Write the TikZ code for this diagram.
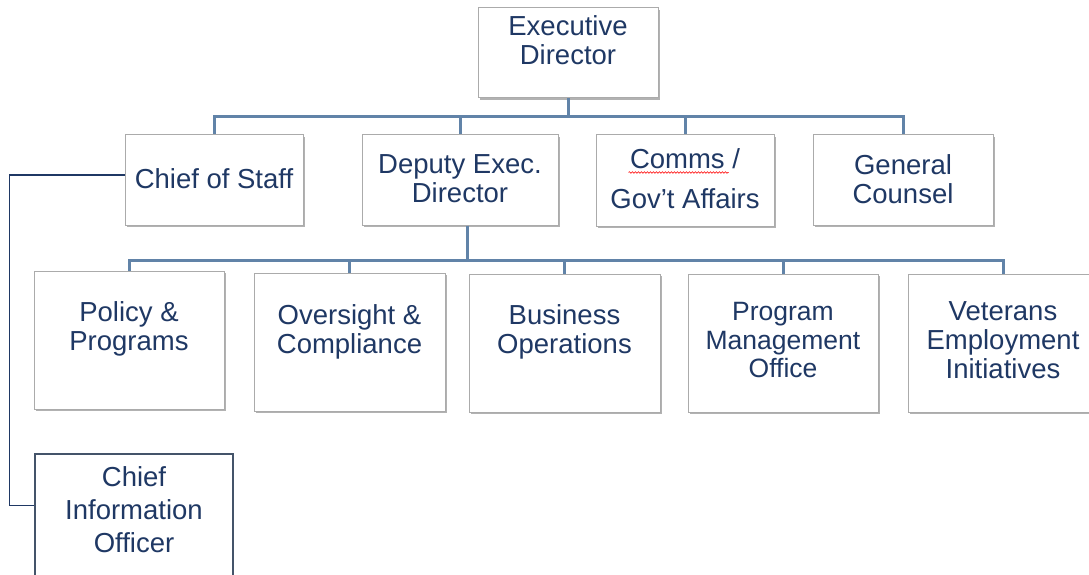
\documentclass[tikz,border=0pt]{standalone}
\usepackage{fontspec}
\setmainfont{Liberation Sans}
\usetikzlibrary{shadows, decorations.pathmorphing}

\definecolor{navy}{HTML}{1F3864}
\definecolor{steel}{HTML}{6183A8}
\definecolor{boxgray}{HTML}{ABABAB}
\definecolor{slate}{HTML}{44546A}

\begin{document}
\begin{tikzpicture}[x=1pt, y=-1pt, line join=miter,
  tree/.style={draw=steel, line width=3pt},
  link/.style={draw=navy, line width=1.2pt},
  elbow/.style={to path={-| (\tikztotarget)}},
  unit node/.style={rectangle, draw=boxgray, line width=1pt, fill=white,
    drop shadow={shadow xshift=1.5pt, shadow yshift=-2pt, fill=black, opacity=0.3}},
  cio node/.style={rectangle, draw=slate, line width=1.3pt, fill=white},
  name text/.style={anchor=north, inner sep=0pt, align=center, text=navy,
    font=\fontsize{27.5}{29}\selectfont}]

  \path[use as bounding box, fill=white] (0,0) rectangle (1089,575);

  % top level
  \node[unit node] (exec) at (568,53) [minimum width=180pt, minimum height=90pt,
    label={[name text, yshift=-8pt]north:{Executive\\Director}}] {};

  % second row
  \node[unit node] (staff) at (214,180) [minimum width=178pt, minimum height=90pt,
    label={[name text, yshift=-34pt]north:{Chief of Staff}}] {};
  \node[unit node] (deputy) at (460,180) [minimum width=196pt, minimum height=90pt,
    label={[name text, yshift=-20pt]north:{Deputy Exec.\\Director}}] {};
  \node[unit node] (comms) at (685,180.5) [minimum width=178pt, minimum height=91pt,
    label={[name text, yshift=-14pt]north:{Comms /\\[11pt]Gov’t Affairs}}] {};
  \node[unit node] (counsel) at (903,180) [minimum width=180pt, minimum height=90pt,
    label={[name text, yshift=-20pt]north:{General\\Counsel}}] {};

  % third row
  \node[unit node] (policy) at (129,340) [minimum width=190pt, minimum height=138pt,
    label={[name text, yshift=-31pt]north:{Policy \&\\Programs}}] {};
  \node[unit node] (oversight) at (349.5,342) [minimum width=191pt, minimum height=138pt,
    label={[name text, yshift=-32pt]north:{Oversight \&\\Compliance}}] {};
  \node[unit node] (business) at (564.5,343) [minimum width=191pt, minimum height=138pt,
    label={[name text, yshift=-31pt]north:{Business\\Operations}}] {};
  \node[unit node] (pmo) at (783,343) [minimum width=190pt, minimum height=138pt,
    label={[name text, yshift=-29pt, font=\fontsize{26.5}{28.5}\selectfont]north:{Program\\Management\\Office}}] {};
  \node[unit node] (veterans) at (1003,343) [minimum width=190pt, minimum height=138pt,
    label={[name text, yshift=-28pt]north:{Veterans\\Employment\\Initiatives}}] {};

  \node[cio node] (cio) at (134,519) [minimum width=198pt, minimum height=130pt,
    label={[name text, yshift=-13pt, font=\fontsize{27.5}{33}\selectfont]north:{Chief\\Information\\Officer}}] {};

  \coordinate (bar1) at (568,117);
  \coordinate (bar2) at (467,260);

  \path[tree]
    (exec.south) edge (bar1)
    (bar1) edge[elbow] (staff.north)
    (bar1) edge[elbow] (deputy.north)
    (bar1) edge[elbow] (comms.north)
    (bar1) edge[elbow] (counsel.north);

  \path[tree]
    ([xshift=7pt]deputy.south) edge (bar2)
    (bar2) edge[elbow] (policy.north)
    (bar2) edge[elbow] (oversight.north)
    (bar2) edge[elbow] (business.north)
    (bar2) edge[elbow] (pmo.north)
    (bar2) edge[elbow] (veterans.north);

  \draw[link] ([yshift=5pt]staff.west) -- ++(-115,0) |- ([yshift=-52pt]cio.north west);

  % spell-check mark under Comms
  \draw[red, line width=0.6pt, decorate, decoration={snake, amplitude=0.8pt, segment length=3pt}]
    ([xshift=33pt, yshift=-38pt]comms.north west) -- ++(100,0);
\end{tikzpicture}
\end{document}
